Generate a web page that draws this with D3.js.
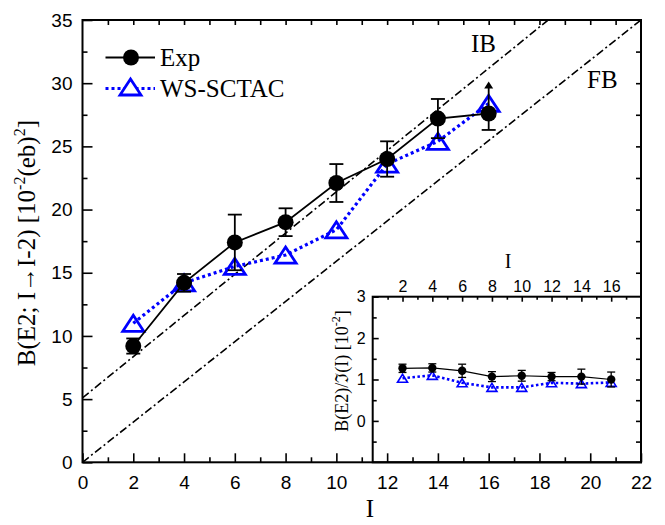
<!DOCTYPE html>
<html>
<head>
<meta charset="utf-8">
<script src="https://cdn.jsdelivr.net/npm/d3@7"></script>
<style>
  body { margin: 0; background: #fff; }
  svg { display: block; }
  .tick text { font-family: "Liberation Sans", Arial, sans-serif; fill: #000; }
  .tick line { stroke: #000; stroke-width: 1.6px; }
</style>
</head>
<body>
<div id="chart_container"></div>
<script>
// values
var spins = [2, 4, 6, 8, 10, 12, 14, 16]
var expBE2 = [9.2, 14.2, 17.4, 19.0, 22.1, 24.0, 27.2, 27.6]
var expErrLo = [0.6, 0.7, 2.2, 1.1, 1.5, 1.4, 1.55, 1.3]
var expErrHi = [0.6, 0.7, 2.2, 1.1, 1.5, 1.4, 1.55, 2.5]
var expArrow = [false, false, false, false, false, false, false, true]
var wsBE2 = [11.0, 14.2, 15.5, 16.4, 18.4, 23.6, 25.4, 28.4]

var expRatio = [1.27, 1.28, 1.21, 1.07, 1.09, 1.07, 1.07, 1.0]
var expRatioErr = [0.1, 0.1, 0.16, 0.12, 0.13, 0.1, 0.18, 0.18]
var wsRatio = [1.03, 1.10, 0.92, 0.81, 0.81, 0.92, 0.90, 0.93]

var refI = [0, 22]
var ibLine = [5.1, 40.96]
var fbLine = [0, 35]

var legendNames = ["Exp", "WS-SCTAC"]
var mainYTicks = [0, 5, 10, 15, 20, 25, 30, 35]
var mainXTicks = [0, 2, 4, 6, 8, 10, 12, 14, 16, 18, 20, 22]
var insetXTicks = [2, 4, 6, 8, 10, 12, 14, 16]
var insetYTicks = [0, 1, 2, 3]

var W = 665, H = 525
var serif = '"Liberation Serif", "Times New Roman", serif'
var blue = "#0000ff"

var svg = d3.select("#chart_container")
    .append("svg")
        .attr("width", W)
        .attr("height", H)

var x = d3.scaleLinear().domain([0, 22]).range([82.5, 641])
var y = d3.scaleLinear().domain([0, 35]).range([462.3, 20])

var x2 = d3.scaleLinear().domain([0, 18]).range([372.7, 641])
var y2 = d3.scaleLinear().domain([-1, 3]).range([462.3, 296.7])

svg.append("clipPath").attr("id", "mainclip")
    .append("rect")
    .attr("x", x(0)).attr("y", y(35))
    .attr("width", x(22) - x(0)).attr("height", y(0) - y(35))

var expData = spins.map(function(s, i) {
    return {I: s, v: expBE2[i], lo: expErrLo[i], hi: expErrHi[i], arrow: expArrow[i]}
})
var wsData = spins.map(function(s, i) { return {I: s, v: wsBE2[i]} })
var expRatioData = spins.map(function(s, i) {
    return {I: s, v: expRatio[i], lo: expRatioErr[i], hi: expRatioErr[i], arrow: false}
})
var wsRatioData = spins.map(function(s, i) { return {I: s, v: wsRatio[i]} })

function tri(cx, cy, w, h) {
    return "M" + cx + "," + (cy - h / 2) + "L" + (cx + w / 2) + "," + (cy + h / 2) +
        "L" + (cx - w / 2) + "," + (cy + h / 2) + "Z"
}

function ticksAxis(g, axis, vals, size, pad, fmt) {
    g.call(axis.tickValues(vals).tickSize(size).tickPadding(pad).tickFormat(fmt))
    g.select(".domain").remove()
    return g
}

function range(a, b, st) {
    var r = []
    for (var v = a; v <= b + 1e-9; v += st) r.push(+v.toFixed(3))
    return r
}

// ---------- main panel ----------
var main = svg.append("g").attr("id", "main_canvas")

// reference lines IB / FB
var refLine = d3.line()
    .x(function(d) { return x(d[0]) })
    .y(function(d) { return y(d[1]) })

var refG = main.append("g").attr("clip-path", "url(#mainclip)")
refG.append("path")
    .datum(refI.map(function(v, i) { return [v, ibLine[i]] }))
    .attr("d", refLine)
    .style("fill", "none").style("stroke", "black").style("stroke-width", "1.6px")
    .style("stroke-dasharray", "8,3,2,3")
refG.append("path")
    .datum(refI.map(function(v, i) { return [v, fbLine[i]] }))
    .attr("d", refLine)
    .style("fill", "none").style("stroke", "black").style("stroke-width", "1.6px")
    .style("stroke-dasharray", "8,3,2,3")

main.append("text").attr("x", 471).attr("y", 52)
    .style("font-family", serif).style("font-size", "25px").text("IB")
main.append("text").attr("x", 587).attr("y", 88)
    .style("font-family", serif).style("font-size", "25px").text("FB")

function drawSeries(g, xs, ys, exp, ws, o) {
    var line = d3.line()
        .x(function(d) { return xs(d.I) })
        .y(function(d) { return ys(d.v) })

    g.append("path").datum(ws).attr("d", line)
        .style("fill", "none").style("stroke", blue)
        .style("stroke-width", o.wsW + "px").style("stroke-dasharray", o.dash)

    g.selectAll(".ws_tri").data(ws).enter()
        .append("path")
        .attr("class", "ws_tri")
        .attr("d", function(d) { return tri(xs(d.I), ys(d.v), o.triW, o.triH) })
        .style("fill", "none").style("stroke", blue)
        .style("stroke-width", o.triS + "px").style("stroke-linejoin", "miter")

    g.append("path").datum(exp).attr("d", line)
        .style("fill", "none").style("stroke", "black").style("stroke-width", o.expW + "px")

    var eb = g.selectAll(".err").data(exp).enter().append("g").attr("class", "err")
        .style("stroke", "black").style("stroke-width", o.errW + "px")
    eb.append("line")
        .attr("x1", function(d) { return xs(d.I) }).attr("x2", function(d) { return xs(d.I) })
        .attr("y1", function(d) { return ys(d.v - d.lo) })
        .attr("y2", function(d) { return ys(d.v + d.hi) + (d.arrow ? 6 : 0) })
    eb.append("line")
        .attr("x1", function(d) { return xs(d.I) - o.cap }).attr("x2", function(d) { return xs(d.I) + o.cap })
        .attr("y1", function(d) { return ys(d.v - d.lo) }).attr("y2", function(d) { return ys(d.v - d.lo) })
    eb.filter(function(d) { return !d.arrow }).append("line")
        .attr("x1", function(d) { return xs(d.I) - o.cap }).attr("x2", function(d) { return xs(d.I) + o.cap })
        .attr("y1", function(d) { return ys(d.v + d.hi) }).attr("y2", function(d) { return ys(d.v + d.hi) })
    eb.filter(function(d) { return d.arrow }).append("path")
        .attr("d", function(d) { return tri(xs(d.I), ys(d.v + d.hi) + 3, 9, 7) })
        .style("fill", "black").style("stroke", "none")

    g.selectAll(".exp_dot").data(exp).enter()
        .append("circle")
        .attr("class", "exp_dot")
        .attr("cx", function(d) { return xs(d.I) })
        .attr("cy", function(d) { return ys(d.v) })
        .attr("r", o.r)
        .style("fill", "black")
}

drawSeries(main.append("g"), x, y, expData, wsData,
    {wsW: 3.2, dash: "3,3", triW: 21, triH: 16, triS: 2.8, expW: 1.8, errW: 1.8, cap: 7, r: 8})

// legend
var leg = main.append("g").attr("id", "legend")
leg.append("line").attr("x1", 105.5).attr("x2", 155).attr("y1", 57.5).attr("y2", 57.5)
    .style("stroke", "black").style("stroke-width", "1.8px")
leg.append("circle").attr("cx", 131).attr("cy", 57.5).attr("r", 8).style("fill", "black")
leg.append("line").attr("x1", 105.5).attr("x2", 155).attr("y1", 88.5).attr("y2", 88.5)
    .style("stroke", blue).style("stroke-width", "3.2px").style("stroke-dasharray", "3,3")
leg.append("path").attr("d", tri(130.5, 87, 21, 16))
    .style("fill", "white").style("stroke", blue).style("stroke-width", "2.8px")
leg.selectAll(".leg_text").data(legendNames).enter()
    .append("text").attr("class", "leg_text")
    .attr("x", 160).attr("y", function(d, i) { return 66 + i * 31 })
    .style("font-family", serif).style("font-size", "25px")
    .text(function(d) { return d })

// main axes: left / top / right (bottom later, on top of inset)
ticksAxis(main.append("g").attr("transform", "translate(" + x(0) + ",0)"),
    d3.axisLeft(y), mainYTicks, -10, 10, d3.format("d"))
    .selectAll("text").style("font-size", "19px")
ticksAxis(main.append("g").attr("transform", "translate(" + x(0) + ",0)"),
    d3.axisLeft(y), range(2.5, 32.5, 5), -5, 0, "")
ticksAxis(main.append("g").attr("transform", "translate(0," + y(35) + ")"),
    d3.axisTop(x), range(1, 21, 1), -5, 0, "")
ticksAxis(main.append("g").attr("transform", "translate(" + x(22) + ",0)"),
    d3.axisRight(y), range(2.5, 32.5, 2.5), -5, 0, "")

// y title
main.append("text")
    .attr("transform", "translate(35," + ((y(0) + y(35)) / 2 + 2) + ") rotate(-90)")
    .attr("text-anchor", "middle")
    .style("font-family", serif).style("font-size", "25px")
    .call(function(t) {
        t.append("tspan").text("B(E2; I\u2192I-2) [10")
        t.append("tspan").attr("dy", -10).style("font-size", "16px").text("-2")
        t.append("tspan").attr("dy", 10).text("(eb)")
        t.append("tspan").attr("dy", -10).style("font-size", "16px").text("2")
        t.append("tspan").attr("dy", 10).text("]")
    })

// x title
main.append("text").attr("x", 370).attr("y", 517).attr("text-anchor", "middle")
    .style("font-family", serif).style("font-size", "25px").text("I")

// ---------- inset ----------
var inset = svg.append("g").attr("id", "inset_canvas")
inset.append("rect")
    .attr("x", x2(0)).attr("y", y2(3))
    .attr("width", x2(18) - x2(0)).attr("height", y2(-1) - y2(3))
    .style("fill", "white")

drawSeries(inset.append("g"), x2, y2, expRatioData, wsRatioData,
    {wsW: 2.6, dash: "2.5,2.5", triW: 10, triH: 8, triS: 1.6, expW: 1.2, errW: 1.3, cap: 4, r: 4.2})

ticksAxis(inset.append("g").attr("transform", "translate(0," + y2(3) + ")"),
    d3.axisTop(x2), insetXTicks, -5, 5, d3.format("d"))
    .selectAll("text").style("font-size", "16px")
ticksAxis(inset.append("g").attr("transform", "translate(0," + y2(3) + ")"),
    d3.axisTop(x2), range(1, 17, 2), -3, 0, "")
ticksAxis(inset.append("g").attr("transform", "translate(" + x2(0) + ",0)"),
    d3.axisLeft(y2), insetYTicks, -6, 7, d3.format("d"))
    .selectAll("text").style("font-size", "16px")
ticksAxis(inset.append("g").attr("transform", "translate(" + x2(0) + ",0)"),
    d3.axisLeft(y2), range(-0.5, 2.5, 1), -4, 0, "")
ticksAxis(inset.append("g").attr("transform", "translate(" + x2(18) + ",0)"),
    d3.axisRight(y2), range(-0.5, 2.5, 0.5), -5, 0, "")

inset.append("rect")
    .attr("x", x2(0)).attr("y", y2(3))
    .attr("width", x2(18) - x2(0)).attr("height", y2(-1) - y2(3))
    .style("fill", "none").style("stroke", "black").style("stroke-width", "2px")

inset.append("text").attr("x", 508).attr("y", 268).attr("text-anchor", "middle")
    .style("font-family", serif).style("font-size", "20px").text("I")

inset.append("text")
    .attr("transform", "translate(348,371) rotate(-90)")
    .attr("text-anchor", "middle")
    .style("font-family", serif).style("font-size", "18px")
    .call(function(t) {
        t.append("tspan").text("B(E2)/\u2111(I) [10")
        t.append("tspan").attr("dy", -8).style("font-size", "12px").text("-2")
        t.append("tspan").attr("dy", 8).text("]")
    })

// main bottom axis and frame, drawn last
ticksAxis(svg.append("g").attr("transform", "translate(0," + y(0) + ")"),
    d3.axisBottom(x), mainXTicks, -9, 13, d3.format("d"))
    .selectAll("text").style("font-size", "19px")
ticksAxis(svg.append("g").attr("transform", "translate(0," + y(0) + ")"),
    d3.axisBottom(x), range(1, 21, 2), -5, 0, "")

svg.append("rect")
    .attr("x", x(0)).attr("y", y(35))
    .attr("width", x(22) - x(0)).attr("height", y(0) - y(35))
    .style("fill", "none").style("stroke", "black").style("stroke-width", "2px")
</script>
</body>
</html>
